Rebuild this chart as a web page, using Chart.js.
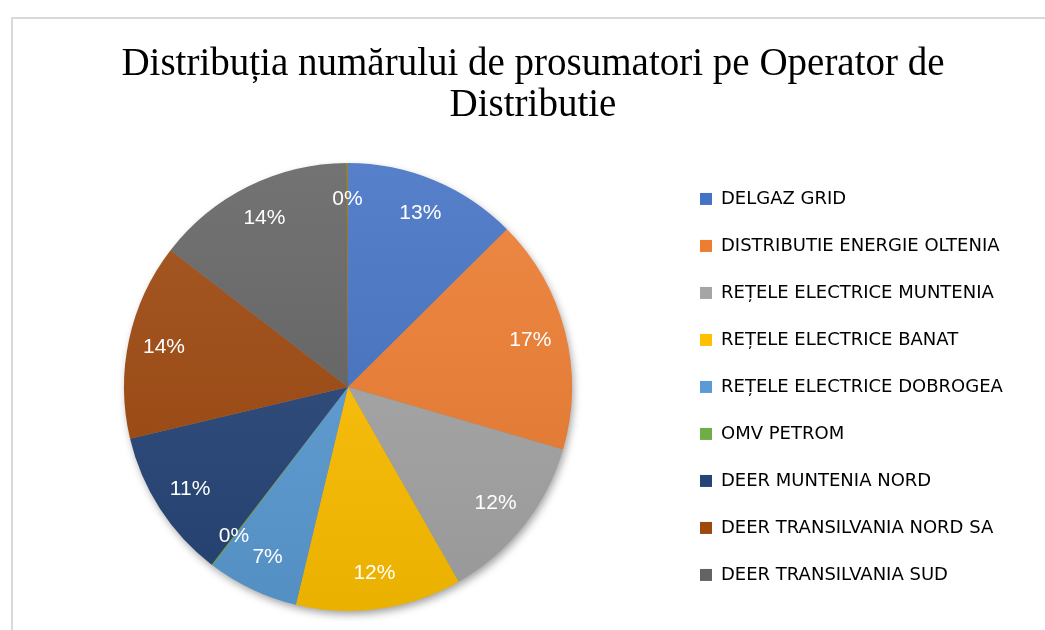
<!DOCTYPE html>
<html>
<head>
<meta charset="utf-8">
<script src="https://cdn.jsdelivr.net/npm/chart.js@4"></script>
<style>
  html, body { margin: 0; padding: 0; background: #fff; overflow: hidden; }
  #wrap {
    position: absolute; left: 11px; top: 17px;
    width: 1045px; height: 613px;
    border-top: 2px solid #d9d9d9; border-left: 2px solid #d9d9d9;
    box-sizing: border-box;
  }
</style>
</head>
<body>
<div id="wrap"><canvas id="myChart"></canvas></div>
<script>
// operators (the last slice is not in the legend of the picture)
const labels = [
  "DELGAZ GRID",
  "DISTRIBUTIE ENERGIE OLTENIA",
  "REȚELE ELECTRICE MUNTENIA",
  "REȚELE ELECTRICE BANAT",
  "REȚELE ELECTRICE DOBROGEA",
  "OMV PETROM",
  "DEER MUNTENIA NORD",
  "DEER TRANSILVANIA NORD SA",
  "DEER TRANSILVANIA SUD",
  ""
];
// share of prosumers, %
const shares = [12.6, 17.0, 12.3, 12.0, 6.6, 0.1, 10.9, 14.2, 14.5, 0.1];
const baseColors = [
  "#4472c4", "#ed7d31", "#a5a5a5", "#ffc000", "#5b9bd5",
  "#70ad47", "#264478", "#9e480e", "#636363", "#997300"
];

function shade(hex, f) {
  // f > 0 lighter, f < 0 darker
  const n = parseInt(hex.slice(1), 16);
  let r = (n >> 16) & 255, g = (n >> 8) & 255, b = n & 255;
  const t = f < 0 ? 0 : 255, p = Math.abs(f);
  r = Math.round(r + (t - r) * p);
  g = Math.round(g + (t - g) * p);
  b = Math.round(b + (t - b) * p);
  return `rgb(${r},${g},${b})`;
}

function sliceFill(context) {
  const chart = context.chart;
  const area = chart.chartArea;
  const base = baseColors[context.dataIndex];
  if (!area) return base;
  const cy = (area.top + area.bottom) / 2;
  const g = chart.ctx.createLinearGradient(0, cy - 224, 0, cy + 224);
  g.addColorStop(0, shade(base, 0.1));
  g.addColorStop(1, shade(base, -0.08));
  return g;
}

// soft shadow under the pie
const pieShadow = {
  id: "pieShadow",
  beforeDatasetsDraw(chart) {
    const arc = chart.getDatasetMeta(0).data[0];
    if (!arc) return;
    const ctx = chart.ctx;
    ctx.save();
    ctx.shadowColor = "rgba(0,0,0,0.4)";
    ctx.shadowBlur = 8;
    ctx.shadowOffsetX = 2;
    ctx.shadowOffsetY = 4;
    ctx.fillStyle = "#888";
    ctx.beginPath();
    ctx.arc(arc.x, arc.y, arc.outerRadius - 1, 0, Math.PI * 2);
    ctx.fill();
    ctx.restore();
  }
};

// percent labels inside slices
const sliceLabels = {
  id: "sliceLabels",
  afterDatasetsDraw(chart) {
    const ctx = chart.ctx;
    const meta = chart.getDatasetMeta(0);
    const total = shares.reduce((s, v) => s + v, 0);
    ctx.save();
    ctx.fillStyle = "#fff";
    ctx.font = "21px 'Liberation Sans'";
    ctx.textAlign = "center";
    ctx.textBaseline = "middle";
    meta.data.forEach((arc, i) => {
      const mid = (arc.startAngle + arc.endAngle) / 2;
      const r = arc.outerRadius * 0.84;
      const x = arc.x + Math.cos(mid) * r;
      const y = arc.y + Math.sin(mid) * r;
      ctx.fillText(Math.round(shares[i] / total * 100) + "%", x, y);
    });
    ctx.restore();
  }
};

// give the legend a fixed width so the pie and title sit where they should
const legendWidth = {
  id: "legendWidth",
  beforeLayout(chart) {
    const legend = chart.legend;
    if (!legend || legend._wideFit) return;
    const fit = legend.fit;
    legend.fit = function () {
      fit.call(this);
      this.width = 370;
    };
    legend._wideFit = true;
  }
};

new Chart(document.getElementById("myChart"), {
  type: "pie",
  data: {
    labels: labels,
    datasets: [{
      data: shares,
      backgroundColor: sliceFill,
      borderWidth: 0
    }]
  },
  options: {
    responsive: true,
    maintainAspectRatio: false,
    animation: false,
    radius: 224,
    layout: { padding: { top: 0, bottom: 12, left: 12, right: 15 } },
    plugins: {
      title: {
        display: true,
        text: ["Distribuția numărului de prosumatori pe Operator de", "Distributie"],
        color: "#000",
        font: { family: "'Liberation Serif'", size: 39, weight: "normal", lineHeight: 1.05 },
        padding: { top: 25, bottom: 30 }
      },
      legend: {
        position: "right",
        fullSize: false,
        labels: {
          color: "#000",
          font: { family: "'DejaVu Sans'", size: 18 },
          boxWidth: 12,
          boxHeight: 12,
          padding: 29,
          generateLabels(chart) {
            return labels.slice(0, 9).map((t, i) => ({
              text: t,
              fillStyle: baseColors[i],
              strokeStyle: baseColors[i],
              lineWidth: 0,
              hidden: false,
              index: i
            }));
          }
        }
      },
      tooltip: { enabled: false }
    }
  },
  plugins: [legendWidth, pieShadow, sliceLabels]
});
</script>
</body>
</html>
